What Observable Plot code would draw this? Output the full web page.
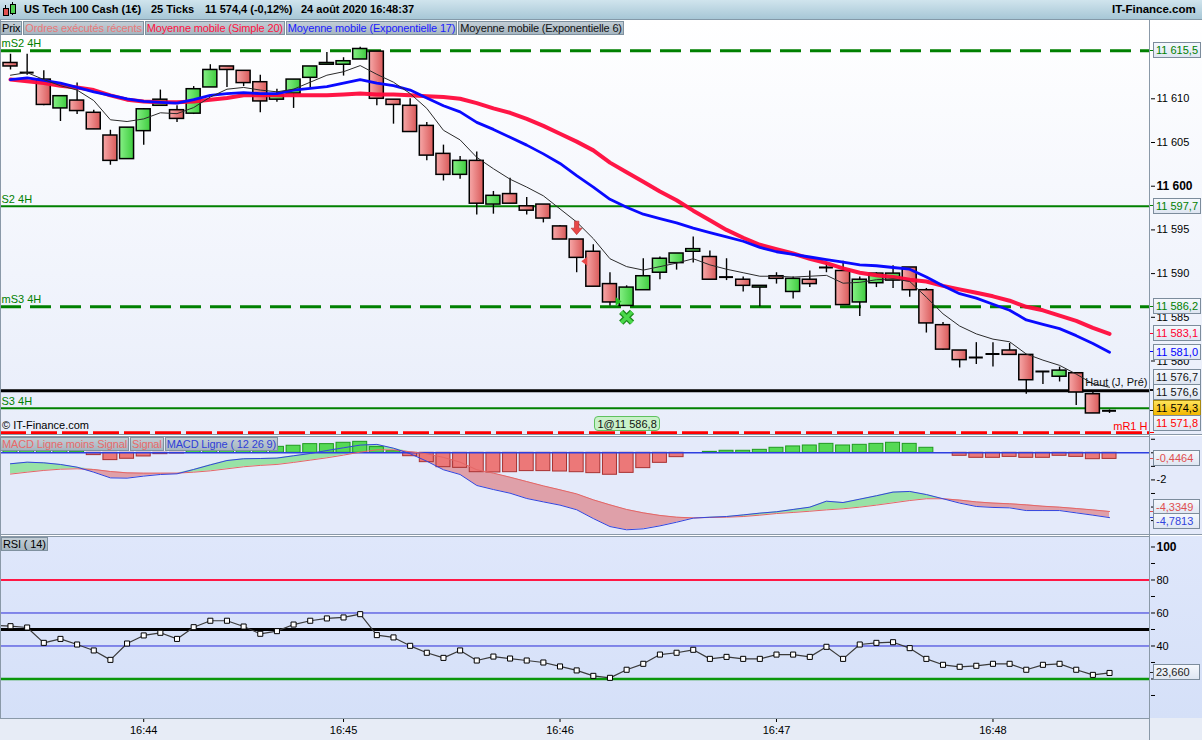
<!DOCTYPE html>
<html><head><meta charset="utf-8">
<script src="https://cdn.jsdelivr.net/npm/d3@7"></script>
<script src="https://cdn.jsdelivr.net/npm/@observablehq/plot@0.6"></script>
<style>
html,body{margin:0;padding:0}
body{width:1202px;height:740px;overflow:hidden;position:relative;font-family:"Liberation Sans",Arial,sans-serif;font-size:11px;background:#fff;color:#000}
.abs{position:absolute}
.tabs{position:absolute;display:flex;gap:1px}
.tab{height:14px;line-height:12px;font-size:11px;letter-spacing:-0.15px;white-space:nowrap;padding:0 1px;box-sizing:border-box;border:1px solid #7f919f;background:linear-gradient(#c2cdd5,#a6b6c1)}
.tag{position:absolute;left:1153px;height:14px;line-height:14px;padding:0 2px;min-width:41px;border:1px solid #7c8c9c;background:linear-gradient(#f5f8fd,#dfe6f2);font-size:11px;white-space:nowrap}
.tk{position:absolute;left:1149px;width:5px;height:1px}
.hline{position:absolute;background:#8a99a8}
</style></head><body>
<div class="abs" style="left:0;top:20px;width:1202px;height:414px;background:linear-gradient(#ffffff,#e8edfa)"></div>
<div class="abs" style="left:0;top:436px;width:1202px;height:99px;background:#e4eafa"></div>
<div class="abs" style="left:0;top:536px;width:1202px;height:182px;background:linear-gradient(#dfe7fb,#d5e0f8)"></div>
<div class="abs" style="left:0;top:718px;width:1202px;height:22px;background:#e7ecf6"></div>
<div id="charts"></div>
<script>
// ---------------- DATA ----------------
const open  = [11614.1,11613.1,11612.2,11608.9,11609.8,11608.4,11605.8,11603.1,11606.3,11609.2,
  11608.7,11608.3,11611.3,11613.7,11613.2,11611.9,11609.9,11610.6,11612.4,11613.9,
  11613.9,11614.5,11615.4,11609.9,11609.2,11606.9,11603.7,11601.3,11602.9,11597.9,
  11599.1,11597.7,11597.9,11595.4,11593.9,11592.5,11588.8,11586.3,11588.1,11590.1,
  11591.2,11592.5,11591.9,11589.6,11589.3,11588.4,11589.7,11587.9,11589.3,11590.7,
  11590.3,11586.7,11588.9,11589.2,11590.7,11588.1,11584.1,11581.2,11580.4,11580.8,
  11581.2,11580.7,11578.8,11578.2,11578.6,11576.2,11574.4];
const high  = [11615.1,11615.1,11613.2,11610.3,11611.8,11608.7,11606.4,11606.7,11608.9,11611.0,
  11609.2,11611.4,11613.9,11613.7,11613.2,11612.7,11611.1,11612.2,11613.7,11615.3,
  11614.7,11615.9,11615.4,11609.9,11610.0,11607.3,11604.7,11603.4,11603.9,11599.4,
  11600.9,11598.7,11597.9,11595.5,11593.9,11593.3,11590.1,11588.6,11591.7,11591.9,
  11592.3,11594.2,11592.6,11591.7,11589.6,11588.6,11590.1,11589.6,11590.3,11591.2,
  11591.4,11589.6,11590.1,11590.9,11590.7,11588.3,11584.4,11581.2,11582.1,11582.1,
  11582.0,11580.7,11578.8,11579.3,11578.6,11576.4,11574.4];
const low   = [11613.3,11612.7,11609.2,11607.4,11608.2,11606.5,11602.4,11603.1,11604.7,11609.2,
  11607.3,11608.2,11611.3,11611.3,11611.4,11608.4,11609.6,11608.9,11611.1,11613.9,
  11612.6,11614.5,11609.2,11607.1,11606.2,11602.9,11600.6,11600.8,11596.7,11596.8,
  11598.0,11596.7,11595.8,11593.9,11590.1,11588.5,11586.3,11586.3,11588.1,11589.3,
  11590.4,11591.2,11589.3,11589.2,11587.9,11586.2,11588.8,11587.1,11588.4,11590.1,
  11586.4,11585.1,11588.4,11588.3,11587.3,11583.2,11581.2,11579.2,11579.6,11579.3,
  11580.7,11576.2,11577.3,11577.6,11574.9,11574.0,11574.0];
const close = [11613.7,11613.0,11609.3,11610.3,11608.6,11606.5,11602.9,11606.7,11608.8,11609.9,
  11607.7,11611.1,11613.3,11613.3,11611.8,11609.7,11610.4,11612.2,11613.7,11614.1,
  11614.3,11615.7,11610.0,11609.3,11606.2,11603.5,11601.3,11602.9,11598.0,11598.9,
  11598.0,11597.2,11596.3,11593.9,11591.8,11588.5,11586.7,11588.4,11589.7,11591.7,
  11592.3,11592.8,11589.3,11589.6,11588.6,11588.6,11589.4,11589.4,11588.8,11590.7,
  11586.4,11589.3,11590.0,11590.0,11588.1,11584.3,11581.3,11580.1,11580.4,11580.8,
  11580.7,11577.8,11578.8,11578.9,11576.4,11574.0,11574.3];
const sma20 = [11612.2,11612.0,11611.8,11611.5,11611.3,11611.0,11610.4,11609.9,11609.7,11609.6,
  11609.6,11609.7,11609.9,11610.1,11610.4,11610.4,11610.4,11610.4,11610.4,11610.4,
  11610.5,11610.6,11610.5,11610.5,11610.4,11610.3,11610.2,11610.0,11609.5,11608.9,
  11608.4,11607.7,11606.9,11606.0,11605.1,11604.1,11602.7,11601.6,11600.5,11599.4,
  11598.4,11597.2,11596.1,11595.0,11594.1,11593.3,11592.8,11592.3,11591.7,11591.2,
  11590.6,11590.1,11589.8,11589.6,11589.3,11589.1,11588.6,11588.2,11587.8,11587.4,
  11586.9,11586.2,11585.8,11585.2,11584.6,11583.8,11583.1];
const ema17 = [11612.2,11612.4,11612.1,11611.8,11611.3,11610.8,11610.4,11610.0,11609.7,11609.6,
  11609.5,11609.9,11610.4,11610.6,11610.7,11610.6,11610.6,11611.0,11611.2,11611.4,
  11611.8,11612.2,11611.8,11611.5,11611.0,11610.1,11609.2,11608.5,11607.3,11606.5,
  11605.6,11604.7,11603.7,11602.6,11601.2,11599.9,11598.5,11597.6,11596.8,11596.3,
  11595.8,11595.2,11594.7,11594.2,11593.7,11593.0,11592.5,11592.2,11591.9,11591.6,
  11591.3,11591.0,11590.9,11590.7,11590.5,11589.6,11588.6,11587.7,11587.2,11586.5,
  11585.8,11584.7,11584.2,11583.7,11582.9,11582.0,11581.0];
const ema6  = [11612.7,11613.0,11612.2,11611.5,11611.0,11609.8,11607.6,11607.4,11607.7,11608.4,
  11608.3,11609.0,11610.2,11611.1,11611.3,11611.0,11610.8,11611.1,11611.9,11612.7,
  11613.1,11613.8,11612.8,11611.9,11610.6,11608.9,11606.4,11605.3,11603.3,11602.0,
  11600.8,11599.9,11598.9,11597.4,11595.9,11594.0,11591.7,11590.8,11590.4,11590.8,
  11591.2,11591.7,11591.0,11590.5,11590.1,11589.7,11589.7,11589.6,11589.7,11589.8,
  11588.9,11589.0,11589.3,11589.4,11589.1,11587.3,11585.4,11584.0,11583.1,11582.5,
  11582.2,11580.8,11580.1,11579.5,11578.5,11577.4,11577.0];
const macdLine = [-0.81,-0.69,-0.74,-0.86,-1.06,-1.43,-1.85,-1.87,-1.72,-1.60,
  -1.55,-1.23,-0.89,-0.57,-0.44,-0.42,-0.39,-0.22,-0.05,0.17,
  0.37,0.57,0.62,0.34,-0.07,-0.62,-1.25,-1.60,-2.41,-2.71,
  -2.98,-3.37,-3.62,-3.86,-4.20,-4.85,-5.44,-5.68,-5.61,-5.39,
  -5.12,-4.82,-4.75,-4.70,-4.58,-4.45,-4.35,-4.18,-4.01,-3.57,
  -3.67,-3.42,-3.17,-2.90,-2.85,-3.08,-3.39,-3.71,-3.96,-4.03,
  -4.06,-4.26,-4.26,-4.26,-4.43,-4.60,-4.78];
const signalLine = [-1.57,-1.43,-1.30,-1.21,-1.18,-1.23,-1.38,-1.48,-1.50,-1.50,
  -1.50,-1.43,-1.33,-1.18,-1.03,-0.93,-0.86,-0.71,-0.54,-0.37,
  -0.17,0.05,0.22,0.22,0.07,-0.07,-0.34,-0.69,-1.25,-1.50,
  -1.80,-2.12,-2.44,-2.73,-3.03,-3.47,-3.84,-4.18,-4.43,-4.62,
  -4.75,-4.80,-4.77,-4.75,-4.70,-4.60,-4.48,-4.40,-4.31,-4.21,
  -4.13,-4.01,-3.86,-3.69,-3.52,-3.39,-3.39,-3.49,-3.62,-3.71,
  -3.76,-3.84,-3.94,-4.01,-4.11,-4.21,-4.33];
const macdHist = [0.70,0.70,0.55,0.35,0.10,-0.17,-0.54,-0.44,-0.27,-0.10,
  -0.05,0.20,0.40,0.55,0.55,0.50,0.44,0.52,0.64,0.64,
  0.74,0.81,0.42,0.12,-0.25,-0.69,-1.06,-1.11,-1.43,-1.45,
  -1.43,-1.35,-1.35,-1.38,-1.43,-1.50,-1.62,-1.48,-1.13,-0.74,
  -0.32,0.00,0.07,0.15,0.15,0.22,0.37,0.47,0.54,0.66,
  0.54,0.59,0.66,0.74,0.66,0.37,0.00,-0.22,-0.37,-0.37,
  -0.30,-0.37,-0.37,-0.22,-0.30,-0.47,-0.45];
const rsi = [52.0,51.2,41.9,44.3,40.9,37.3,31.6,41.5,46.4,48.0,
  44.3,51.4,55.3,55.3,51.8,47.4,49.0,53.0,55.3,56.7,
  57.3,59.3,46.6,45.2,40.1,35.9,32.8,37.3,31.2,33.6,
  32.4,31.2,30.0,27.6,25.2,21.9,20.7,25.6,29.2,34.8,
  35.9,37.7,32.2,33.4,32.2,32.2,34.8,34.8,33.4,39.5,
  32.2,40.9,41.9,42.3,38.7,32.2,28.6,27.4,28.0,29.2,
  29.2,25.6,28.6,29.2,25.6,22.5,23.66];
const rsiBefore = 52.6;  // RSI of the candle just before the first one shown
const timeTickIdx = [8, 20, 33, 46, 59];
const timeLabels = ["16:44", "16:45", "16:46", "16:47", "16:48"];
const priceTicks = [11610, 11605, 11595, 11590, 11585, 11580];
const priceTickBold = [11600];
const macdTicks = [1, 0, -1, -2, -3, -4, -5];
const macdTickLabels = [-2];
const rsiTicks = [90, 80, 70, 60, 50, 40, 30, 20, 10];
const rsiTickLabels = [80, 60, 40];
const levelNames = ["mS2 4H", "S2 4H", "mS3 4H", "S3 4H"];
const levelValues = [11615.5, 11597.7, 11586.2, 11574.6];
const prevHigh = 11576.6;      // Haut (J, Pré)
const mR1 = 11571.8;           // mR1 H
const priceTagValues = [11615.5, 11597.7, 11586.2, 11583.1, 11581.0, 11576.7, 11576.6, 11574.3, 11571.8];
const macdTagValues = [-0.4464, -4.3349, -4.7813];
const rsiTagValue = 23.66;
const tradeCandle = 37;
const tradeLabel = "1@11 586,8";
const signalCandles = [34, 35, 37, 37];
const signalPrices = [11595.2, 11591.4, 11586.8, 11585.0];
const rsiLevels = [80, 60, 50, 40, 20];

// ---------------- HELPERS ----------------
const FONT = '"Liberation Sans", Arial, sans-serif';
const xDomain = [-0.6005, 68.46];
const W = 1202, MR = 52;
function fmt(v, dec) {
  const s = Math.abs(v).toFixed(dec); let [a, b] = s.split(".");
  a = a.replace(/\B(?=(\d{3})+(?!\d))/g, " ");
  return (v < 0 ? "-" : "") + a + (b ? "," + b : "");
}
const idx = d3.range(open.length);
const candles = idx.map(i => ({i, o: open[i], h: high[i], l: low[i], c: close[i]}));
const isDoji = d => Math.abs(d.o - d.c) < 0.15;
const bw = 0.42;
const baseStyle = {background: "transparent", fontFamily: FONT, fontSize: "11px", overflow: "visible"};
function place(el, top) {
  const wrap = document.createElement("div");
  wrap.style.cssText = `position:absolute;left:0;top:${top}px;width:${W}px`;
  wrap.appendChild(el); document.getElementById("charts").appendChild(wrap);
}
const defs = () => {
  const d = d3.create("svg:defs");
  const r = d.append("linearGradient").attr("id", "gRed").attr("x1", 0).attr("x2", 1).attr("y1", 0).attr("y2", 0);
  r.append("stop").attr("offset", 0).attr("stop-color", "#f7a8a8");
  r.append("stop").attr("offset", 1).attr("stop-color", "#d95a5a");
  const g = d.append("linearGradient").attr("id", "gGreen").attr("x1", 0).attr("x2", 1).attr("y1", 0).attr("y2", 0);
  g.append("stop").attr("offset", 0).attr("stop-color", "#86f086");
  g.append("stop").attr("offset", 1).attr("stop-color", "#3fcc3f");
  return d.node();
};
const arrowDown = {draw(c) { c.moveTo(-2.2,-7); c.lineTo(2.2,-7); c.lineTo(2.2,0); c.lineTo(5.5,0); c.lineTo(0,6.5); c.lineTo(-5.5,0); c.lineTo(-2.2,0); c.closePath(); }};
const triLeft = {draw(c) { c.moveTo(3,-4.5); c.lineTo(3,4.5); c.lineTo(-3,0); c.closePath(); }};
const triRight = {draw(c) { c.moveTo(-3,-4.5); c.lineTo(-3,4.5); c.lineTo(3,0); c.closePath(); }};
const sig = signalCandles.map((c, k) => ({i: c, p: signalPrices[k]}));

// ---------------- PRICE PANEL ----------------
const PT = 20, PH = 414;
const lv = levelNames.map((n, k) => ({n, v: levelValues[k], dashed: n.startsWith("m")}));
const price = Plot.plot({
  width: W, height: PH, marginLeft: 0, marginRight: MR, marginTop: 0, marginBottom: 0,
  style: baseStyle,
  x: {domain: xDomain, axis: null},
  y: {domain: [11571.59, 11618.96], axis: null},
  marks: [
    defs,
    Plot.ruleY(lv.filter(d => d.dashed), {y: "v", stroke: "#008000", strokeWidth: 3, strokeDasharray: "21,9"}),
    Plot.ruleY(lv.filter(d => !d.dashed), {y: "v", stroke: "#008000", strokeWidth: 2}),
    Plot.ruleY([prevHigh], {stroke: "#000", strokeWidth: 3}),
    Plot.ruleY([mR1], {stroke: "#ff0000", strokeWidth: 3, strokeDasharray: "26,5"}),
    Plot.text(lv, {x: xDomain[0], y: "v", text: "n", dx: 1, dy: -7, textAnchor: "start", fill: "#008000", fontSize: 11}),
    Plot.ruleX(candles, {x: "i", y1: "l", y2: "h", stroke: "#000", strokeWidth: 1.4}),
    Plot.rect(candles.filter(d => !isDoji(d) && d.c < d.o), {x1: d => d.i - bw, x2: d => d.i + bw, y1: "o", y2: "c", fill: "url(#gRed)", stroke: "#000", strokeWidth: 1.5}),
    Plot.rect(candles.filter(d => !isDoji(d) && d.c >= d.o), {x1: d => d.i - bw, x2: d => d.i + bw, y1: "o", y2: "c", fill: "url(#gGreen)", stroke: "#000", strokeWidth: 1.5}),
    Plot.ruleY(candles.filter(isDoji), {y: "c", x1: d => d.i - bw, x2: d => d.i + bw, stroke: "#000", strokeWidth: 2}),
    Plot.line(idx, {x: i => i, y: i => sma20[i], stroke: "#ff0a3c", strokeWidth: 4, strokeOpacity: 0.95}),
    Plot.line(idx, {x: i => i, y: i => ema17[i], stroke: "#0a0aff", strokeWidth: 2.8}),
    Plot.line(idx, {x: i => i, y: i => ema6[i], stroke: "#2b2b2b", strokeWidth: 1}),
    Plot.dot([sig[0]], {x: "i", y: "p", symbol: arrowDown, fill: "#e84848", stroke: "#b02828", strokeWidth: 0.6}),
    Plot.dot([sig[1]], {x: "i", y: "p", dx: -9, symbol: triLeft, fill: "#e84848", stroke: "none"}),
    Plot.dot([sig[2]], {x: "i", y: "p", dx: -8, symbol: triRight, fill: "#22c022", stroke: "none"}),
    Plot.dot([sig[3]], {x: "i", y: "p", symbol: "times", r: 5, stroke: "#1c8a1c", strokeWidth: 6}),
    Plot.dot([sig[3]], {x: "i", y: "p", symbol: "times", r: 5, stroke: "#4ad84a", strokeWidth: 3.5}),
    Plot.text([prevHigh], {x: xDomain[1], y: d => d, text: () => "Haut (J, Pré)", dx: -3, dy: -8, textAnchor: "end", fill: "#111", fontSize: 11}),
    Plot.text([mR1], {x: xDomain[1], y: d => d, text: () => "mR1 H", dx: -3, dy: -6, textAnchor: "end", fill: "#ff0000", fontSize: 11}),
    Plot.axisY({anchor: "right", ticks: priceTicks, tickFormat: d => fmt(d, 0), tickSize: 4, tickPadding: 2, label: null}),
    Plot.axisY({anchor: "right", ticks: priceTickBold, tickFormat: d => fmt(d, 0), tickSize: 4, tickPadding: 2, fontWeight: "bold", fontSize: 12, label: null})
  ]
});
place(price, PT);

// ---------------- MACD PANEL ----------------
const MT = 436, MH = 99;
const md = idx.map(i => ({i, m: macdLine[i], s: signalLine[i], h: macdHist[i]}));
const macd = Plot.plot({
  width: W, height: MH, marginLeft: 0, marginRight: MR, marginTop: 0, marginBottom: 0,
  style: baseStyle,
  x: {domain: xDomain, axis: null},
  y: {domain: [-6.10, 1.203], axis: null},
  marks: [
    Plot.areaY(md, {x: "i", y1: "s", y2: d => Math.max(d.m, d.s), fill: "#98e2a6"}),
    Plot.areaY(md, {x: "i", y1: d => Math.min(d.m, d.s), y2: "s", fill: "#dfa0a9"}),
    Plot.rect(md.filter(d => d.h > 0), {x1: d => d.i - bw, x2: d => d.i + bw, y1: 0, y2: "h", fill: "#55d955", stroke: "#1f9a1f", strokeWidth: 1}),
    Plot.rect(md.filter(d => d.h < 0), {x1: d => d.i - bw, x2: d => d.i + bw, y1: 0, y2: "h", fill: "#ec7878", stroke: "#a83232", strokeWidth: 1}),
    Plot.ruleY([0], {stroke: "#2d3fe0", strokeWidth: 1.5}),
    Plot.line(md, {x: "i", y: "s", stroke: "#e46666", strokeWidth: 1}),
    Plot.line(md, {x: "i", y: "m", stroke: "#3344dd", strokeWidth: 1}),
    Plot.axisY({anchor: "right", ticks: macdTicks, tickFormat: d => macdTickLabels.includes(d) ? fmt(d, 0) : "", tickSize: 4, tickPadding: 2, label: null})
  ]
});
place(macd, MT);

// ---------------- RSI PANEL ----------------
const RT = 536, RH = 204;
const rd = [{i: -1, r: rsiBefore}, ...idx.map(i => ({i, r: rsi[i]}))];
const rsiPlot = Plot.plot({
  width: W, height: RH, marginLeft: 0, marginRight: MR, marginTop: 0, marginBottom: 22,
  style: baseStyle,
  x: {domain: xDomain, axis: null},
  y: {domain: [-3.94, 106.36], axis: null},
  marks: [
    Plot.ruleY([rsiLevels[0]], {stroke: "#ff1744", strokeWidth: 2}),
    Plot.ruleY([rsiLevels[1], rsiLevels[3]], {stroke: "#2a2ad8", strokeWidth: 1}),
    Plot.ruleY([rsiLevels[2]], {stroke: "#000", strokeWidth: 3}),
    Plot.ruleY([rsiLevels[4]], {stroke: "#0a960a", strokeWidth: 2.5}),
    Plot.line(rd, {x: "i", y: "r", stroke: "#3a3a3a", strokeWidth: 1.2, clip: true}),
    Plot.dot(rd.slice(1), {x: "i", y: "r", symbol: "square", r: 2.85, fill: "#fff", stroke: "#000", strokeWidth: 1}),
    Plot.axisY({anchor: "right", ticks: rsiTicks, tickFormat: d => rsiTickLabels.includes(d) ? String(d) : "", tickSize: 4, tickPadding: 2, label: null}),
    Plot.axisY({anchor: "right", ticks: [100], tickFormat: d => String(d), tickSize: 4, tickPadding: 2, fontWeight: "bold", fontSize: 12, label: null}),
    Plot.axisX({anchor: "bottom", ticks: timeTickIdx, tickFormat: d => timeLabels[timeTickIdx.indexOf(d)], tickSize: 4, tickPadding: 4, label: null})
  ]
});
place(rsiPlot, RT);

// ---------------- TAGS ----------------
function tags(items, panelTop, top, bottom, gap) {
  items.forEach(d => d.py = d.y);
  const order = items.slice().sort((a, b) => a.y - b.y);
  for (let it = 0; it < 120; it++) {
    for (let k = 1; k < order.length; k++) {
      const a = order[k - 1], b = order[k], dd = b.py - a.py;
      if (dd < gap) { const s = (gap - dd) / 2; a.py -= s; b.py += s; }
    }
    order.forEach(d => d.py = Math.max(top, Math.min(bottom, d.py)));
  }
  items.forEach(d => {
    const tk = document.createElement("div"); tk.className = "tk";
    tk.style.top = (panelTop + d.y - 0.5) + "px"; tk.style.background = d.color;
    document.body.appendChild(tk);
    const el = document.createElement("div"); el.className = "tag"; el.textContent = d.text;
    el.style.top = (panelTop + d.py - 8) + "px"; el.style.color = d.color;
    if (d.bg) { el.style.background = d.bg; el.style.borderColor = "#a88a10"; }
    document.body.appendChild(el);
  });
}
const ps = price.scale("y");
const priceTagColors = ["#008000", "#008000", "#008000", "#ff0030", "#0000ff", "#111", "#111", "#000", "#ff0000"];
tags(priceTagValues.map((v, k) => ({y: ps.apply(v), text: fmt(v, 1), color: priceTagColors[k],
  bg: k === 7 ? "linear-gradient(#ffe45a,#f2b600)" : null})), PT, 8, PH - 11, 15.5);
const ms = macd.scale("y");
const macdTagColors = ["#e05050", "#e05050", "#3344dd"];
tags(macdTagValues.map((v, k) => ({y: ms.apply(v), text: fmt(v, 4), color: macdTagColors[k]})), MT, 8, MH - 8, 14);
const rs = rsiPlot.scale("y");
tags([{y: rs.apply(rsiTagValue), text: fmt(rsiTagValue, 3), color: "#222"}], RT, 8, 174, 13);

// trade box
const px = price.scale("x");
const tb = document.createElement("div");
tb.textContent = tradeLabel;
tb.style.cssText = `position:absolute;left:${px.apply(tradeCandle) - 32}px;top:416px;width:66px;height:15px;line-height:15px;box-sizing:border-box;border:1px solid #5fc25f;border-radius:4px;background:#c9f1c9;font-size:11px;text-align:center;color:#111`;
document.body.appendChild(tb);
</script>

<!-- frame lines -->
<div class="hline" style="left:1149px;top:20px;width:1px;height:720px"></div>
<div class="hline" style="left:0;top:20px;width:1px;height:698px"></div>
<div class="hline" style="left:0;top:434px;width:1202px;height:1px"></div>
<div class="hline" style="left:0;top:436px;width:1150px;height:1px"></div>
<div class="hline" style="left:0;top:534px;width:1202px;height:1px"></div>
<div class="hline" style="left:0;top:536px;width:1150px;height:1px"></div>
<div class="hline" style="left:0;top:718px;width:1150px;height:1px"></div>

<!-- title bar -->
<div class="abs" style="left:0;top:0;width:1202px;height:19px;background:linear-gradient(#d0e4ed,#a7c7d6);border-bottom:1px solid #8499a8"></div>
<div class="abs" style="left:5px;top:5px;width:1px;height:11px;background:#000"></div>
<div class="abs" style="left:3px;top:8px;width:4px;height:6px;background:#e05050;border:1px solid #000"></div>
<div class="abs" style="left:12px;top:2px;width:1px;height:13px;background:#000"></div>
<div class="abs" style="left:10px;top:4px;width:4px;height:8px;background:#50d050;border:1px solid #000"></div>
<div class="abs" style="left:24px;top:3px;font-weight:bold;font-size:11px;color:#000">US Tech 100 Cash (1€)</div>
<div class="abs" style="left:151px;top:3px;font-weight:bold;font-size:11px">25 Ticks</div>
<div class="abs" style="left:205px;top:3px;font-weight:bold;font-size:11px">11 574,4 (-0,12%)</div>
<div class="abs" style="left:301px;top:3px;font-weight:bold;font-size:11px">24 août 2020 16:48:37</div>
<div class="abs" style="left:1112px;top:3px;font-weight:bold;font-size:11.5px">IT-Finance.com</div>

<!-- price legend tabs -->
<div class="tabs" style="left:0;top:21px">
  <div class="tab" style="color:#000">Prix</div>
  <div class="tab" style="color:#e87878">Ordres exécutés récents</div>
  <div class="tab" style="color:#ff1040">Moyenne mobile (Simple 20)</div>
  <div class="tab" style="color:#1a1aff">Moyenne mobile (Exponentielle 17)</div>
  <div class="tab" style="color:#111">Moyenne mobile (Exponentielle 6)</div>
</div>

<!-- macd tabs -->
<div class="tabs" style="left:0;top:437px">
  <div class="tab" style="color:#e86a6a">MACD Ligne moins Signal</div>
  <div class="tab" style="color:#e86a6a">Signal</div>
  <div class="tab" style="color:#3040d8">MACD Ligne ( 12 26 9)</div>
</div>

<!-- rsi tab -->
<div class="tabs" style="left:1px;top:537px">
  <div class="tab" style="color:#000">RSI ( 14)</div>
</div>

<div class="abs" style="left:2px;top:419px;font-size:11px;color:#000">© IT-Finance.com</div>
</body></html>
